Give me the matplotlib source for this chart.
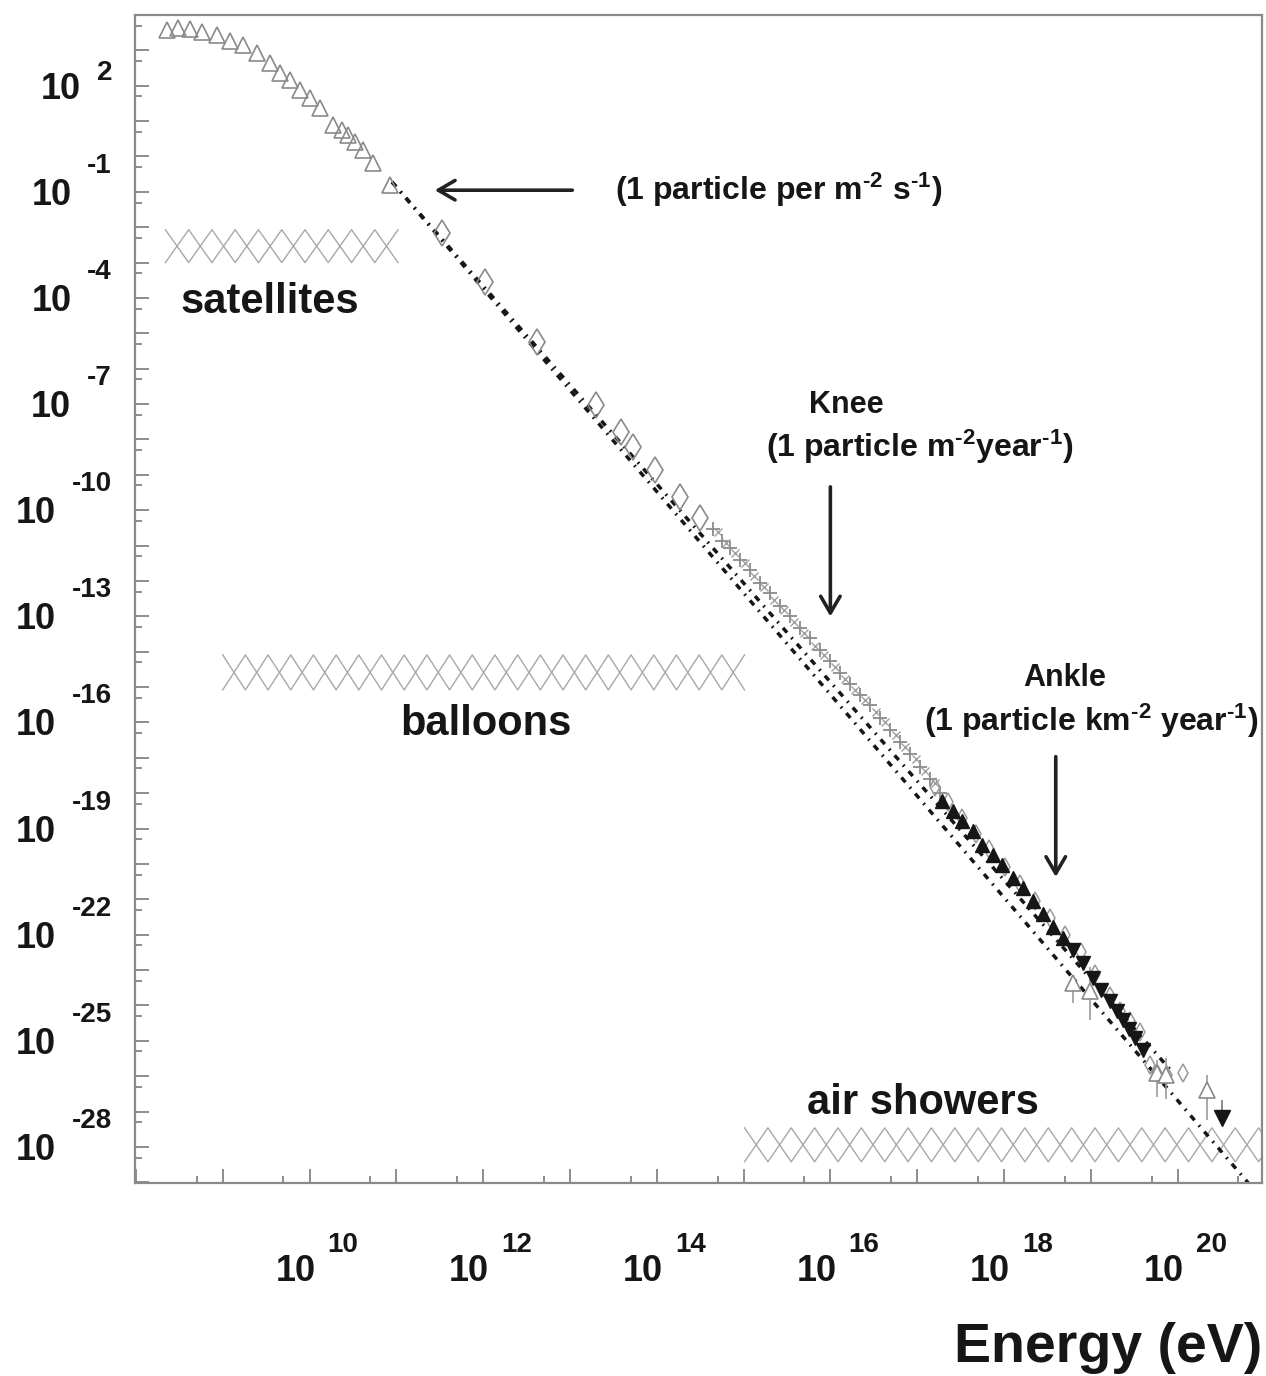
import numpy as np
import matplotlib
matplotlib.use("Agg")
import matplotlib.pyplot as plt
from matplotlib import ticker, transforms

plt.rcParams['font.family'] = 'Liberation Sans'
plt.rcParams['font.weight'] = 'bold'
plt.rcParams['mathtext.fontset'] = 'custom'
for k in ('rm', 'it', 'bf', 'sf'):
    plt.rcParams['mathtext.' + k] = 'Liberation Sans:bold'

# all-particle spectrum, log10(E/eV) and log10(flux)
tri_logE = [8.36, 8.49, 8.62, 8.76, 8.93, 9.08, 9.23, 9.40, 9.55, 9.66, 9.78,
            9.89, 10.01, 10.12, 10.27, 10.37, 10.44, 10.52, 10.62, 10.73, 10.93]
tri_logF = [3.58, 3.64, 3.61, 3.53, 3.44, 3.27, 3.16, 2.93, 2.65, 2.37, 2.17,
            1.89, 1.66, 1.38, 0.90, 0.76, 0.61, 0.42, 0.19, -0.18, -0.80]

dia_logE = [11.53, 12.02, 12.62, 13.30, 13.59, 13.72, 13.98, 14.27, 14.50]
dia_logF = [-2.16, -3.54, -5.24, -7.02, -7.78, -8.21, -8.86, -9.62, -10.21]

knee_logE = [14.65, 14.75, 14.84, 14.96, 15.07, 15.19, 15.30, 15.42, 15.53,
             15.65, 15.76, 15.88, 15.99, 16.11, 16.22, 16.34, 16.46, 16.57,
             16.69, 16.80, 16.92, 17.03, 17.15, 17.26]
knee_logF = [-10.52, -10.86, -11.07, -11.41, -11.70, -12.06, -12.34, -12.71,
             -13.00, -13.33, -13.62, -13.96, -14.25, -14.61, -14.90, -15.23,
             -15.52, -15.88, -16.20, -16.56, -16.88, -17.26, -17.61, -18.00]
knee2_logE = [14.70, 14.80, 14.90, 15.01, 15.12, 15.24, 15.35, 15.47, 15.58,
              15.70, 15.82, 15.93, 16.05, 16.17, 16.28, 16.40, 16.52, 16.63,
              16.75, 16.86, 16.98, 17.09, 17.20]
knee2_logF = [-10.62, -10.93, -11.22, -11.50, -11.85, -12.16, -12.55, -12.83,
              -13.17, -13.46, -13.84, -14.08, -14.42, -14.76, -15.07, -15.36,
              -15.70, -16.00, -16.35, -16.68, -17.02, -17.38, -17.72]

fe_logE = [17.29, 17.41, 17.52, 17.64, 17.75, 17.87, 17.98, 18.10, 18.22,
           18.33, 18.45, 18.56, 18.68]
fe_logF = [-18.22, -18.50, -18.80, -19.08, -19.46, -19.75, -20.03, -20.40,
           -20.68, -21.04, -21.42, -21.79, -22.08]

ag_logE = [18.79, 18.91, 19.02, 19.12, 19.22, 19.30, 19.37, 19.44, 19.51, 19.60]
ag_logF = [-22.42, -22.80, -23.22, -23.55, -23.88, -24.15, -24.40, -24.66,
           -24.93, -25.25]

uhe_logE = [17.20, 17.35, 17.51, 17.68, 17.83, 18.01, 18.18, 18.35, 18.53,
            18.70, 18.88, 19.05, 19.22, 19.34, 19.45, 19.56, 19.68, 19.76,
            19.88, 20.06]
uhe_logF = [-17.82, -18.24, -18.69, -19.16, -19.58, -20.09, -20.56, -21.04,
            -21.54, -22.02, -22.50, -23.10, -23.72, -24.15, -24.45, -24.75,
            -25.68, -25.91, -25.96, -25.91]

eb_logE = [18.79, 18.99, 19.76, 19.86, 20.34]
eb_logF = [-23.36, -23.60, -25.91, -25.96, -26.39]
eb_logF_lo = [-23.93, -24.41, -26.58, -26.65, -27.23]
eb_logF_hi = [-23.19, -22.91, -25.54, -25.48, -25.96]

top_logE = [20.51]
top_logF = [-27.18]
top_logF_hi = [-26.67]

# power-law guides
fit_a_logE = [10.95, 19.95]
fit_a_logF = [-0.72, -25.92]
fit_b_logE = [10.95, 20.85]
fit_b_logF = [-0.72, -29.13]

# energy ranges covered by each technique
band_names = ['satellites', 'balloons', 'air showers']
band_logE_lo = [8.34, 9.00, 15.01]
band_logE_hi = [11.02, 15.01, 21.20]
band_logF_lo = [-3.00, -15.08, -28.42]
band_logF_hi = [-2.07, -14.09, -27.46]

x_label_exps = [10, 12, 14, 16, 18, 20]
y_label_exps = [2, -1, -4, -7, -10, -13, -16, -19, -22, -25, -28]


def p10(v):
    return 10.0 ** np.asarray(v, dtype=float)


fig = plt.figure(figsize=(12.66, 13.76), dpi=100)
ax = fig.add_axes([135 / 1266, 1 - 1183 / 1376, 1127 / 1266, 1168 / 1376])
ax.set_xscale('log')
ax.set_yscale('log')
ax.set_xlim(10 ** 7.99, 10 ** 20.97)
ax.set_ylim(10 ** -29.02, 10 ** 4.0)

grey = '#8a8a8a'
ink = '#161616'

# cross-hatched bands, drawn as two zigzags in opposite phase
for e0, e1, f0, f1 in zip(band_logE_lo, band_logE_hi, band_logF_lo, band_logF_hi):
    n = max(1, int(round((e1 - e0) / 0.265)))
    xs = np.linspace(e0, e1, n + 1)
    even = np.arange(n + 1) % 2 == 0
    for ys in (np.where(even, f1, f0), np.where(even, f0, f1)):
        ax.plot(p10(xs), p10(ys), color='#a8a8a8', lw=1.0,
                solid_joinstyle='round', zorder=1)

for fe, ff in ((fit_a_logE, fit_a_logF), (fit_b_logE, fit_b_logF)):
    ax.plot(p10(fe), p10(ff), color=ink, lw=2.5,
            dashes=(1.8, 1.9, 0.5, 1.9), zorder=2)

ax.plot(p10(tri_logE), p10(tri_logF), ls='none', marker='^', ms=11,
        mfc='none', mec=grey, mew=1.2, zorder=3)
ax.plot(p10(dia_logE), p10(dia_logF), ls='none', marker='d', ms=13,
        mfc='none', mec=grey, mew=1.2, zorder=3)
ax.plot(p10(knee_logE), p10(knee_logF), ls='none', marker='+', ms=10,
        color=grey, mew=1.3, zorder=3)
ax.plot(p10(knee2_logE), p10(knee2_logF), ls='none', marker='x', ms=6,
        color='#a0a0a0', mew=1.0, zorder=3)
ax.plot(p10(uhe_logE), p10(uhe_logF), ls='none', marker='d', ms=9,
        mfc='none', mec='#999999', mew=1.1, zorder=3)
ax.plot(p10(fe_logE), p10(fe_logF), ls='none', marker='^', ms=10,
        color=ink, zorder=4)
ax.plot(p10(ag_logE), p10(ag_logF), ls='none', marker='v', ms=10,
        color=ink, zorder=4)

ebF = p10(eb_logF)
ax.errorbar(p10(eb_logE), ebF, yerr=[ebF - p10(eb_logF_lo), p10(eb_logF_hi) - ebF],
            fmt='^', ms=11, mfc='white', mec=grey, mew=1.2, ecolor='#9a9a9a',
            elinewidth=1.2, capsize=0, zorder=3)
topF = p10(top_logF)
ax.errorbar(p10(top_logE), topF, yerr=[np.zeros(1), p10(top_logF_hi) - topF],
            fmt='v', ms=12, color=ink, ecolor='#777777', elinewidth=1.2,
            capsize=0, zorder=4)

# axes frame and ticks
for s in ax.spines.values():
    s.set_color(grey)
    s.set_linewidth(1.6)
for axis in (ax.xaxis, ax.yaxis):
    axis.set_major_locator(ticker.LogLocator(base=10, subs=(1.0,), numticks=100))
    axis.set_minor_locator(ticker.LogLocator(base=10, subs=(5.0,), numticks=100))
    axis.set_major_formatter(ticker.NullFormatter())
    axis.set_minor_formatter(ticker.NullFormatter())
ax.tick_params(which='both', direction='in', color='#7a7a7a', width=1.2,
               top=False, right=False)
ax.tick_params(which='major', length=10)
ax.tick_params(which='minor', length=5)

# "10" with a detached exponent, as on the original axis labels
xtr = transforms.blended_transform_factory(ax.transData, ax.transAxes)
for n in x_label_exps:
    ax.text(10.0 ** n, 0, '10', ha='right', va='baseline', fontsize=26,
            color=ink, transform=transforms.offset_copy(xtr, fig=fig, x=6, y=-98, units='dots'))
    ax.text(10.0 ** n, 0, str(n), ha='left', va='baseline', fontsize=20,
            color=ink, transform=transforms.offset_copy(xtr, fig=fig, x=18, y=-69, units='dots'))

ytr = ax.get_yaxis_transform()
for n in y_label_exps:
    lift = 6 if n > 0 else 19
    e = ax.annotate(str(n), xy=(0, 10.0 ** n), xycoords=ytr, xytext=(-23, lift),
                    textcoords='offset pixels', ha='right', va='baseline',
                    fontsize=20, color=ink)
    ax.annotate('10', xy=(0, 10.0 ** n), xycoords=(e, ytr), xytext=(-16, -13),
                textcoords='offset pixels', ha='right', va='baseline',
                fontsize=26, color=ink)

fig.text(1262 / 1266, 1 - 1362 / 1376, 'Energy (eV)', ha='right', va='baseline',
         fontsize=40, color=ink)

# band labels
ax.text(0.1198, 0.7449, band_names[0], transform=ax.transAxes, ha='center',
        va='baseline', fontsize=30, color=ink)
ax.text(0.3115, 0.3836, band_names[1], transform=ax.transAxes, ha='center',
        va='baseline', fontsize=30, color=ink)
ax.text(0.6992, 0.0591, band_names[2], transform=ax.transAxes, ha='center',
        va='baseline', fontsize=30, color=ink)

# flux landmarks
arrow = dict(arrowstyle='->,head_length=0.6,head_width=0.35', lw=2.6,
             color='#222222', mutation_scale=20, shrinkA=0, shrinkB=0)
ax.annotate('', xy=(0.266, 0.850), xytext=(0.388, 0.850),
            xycoords='axes fraction', arrowprops=arrow)
ax.text(0.4259, 0.8416, r'(1 particle per m$^{\text{-2}}$ s$^{\text{-1}}$)',
        transform=ax.transAxes, ha='left', va='baseline', fontsize=23, color=ink)

ax.text(0.6309, 0.6592, 'Knee', transform=ax.transAxes, ha='center',
        va='baseline', fontsize=22, color=ink)
ax.text(0.6965, 0.6216, r'(1 particle m$^{\text{-2}}$year$^{\text{-1}}$)',
        transform=ax.transAxes, ha='center', va='baseline', fontsize=23, color=ink)
ax.annotate('', xy=(0.617, 0.485), xytext=(0.617, 0.596),
            xycoords='axes fraction', arrowprops=arrow)

ax.text(0.8252, 0.4255, 'Ankle', transform=ax.transAxes, ha='center',
        va='baseline', fontsize=22, color=ink)
ax.text(0.8483, 0.3870, r'(1 particle km$^{\text{-2}}$ year$^{\text{-1}}$)',
        transform=ax.transAxes, ha='center', va='baseline', fontsize=23, color=ink)
ax.annotate('', xy=(0.817, 0.262), xytext=(0.817, 0.365),
            xycoords='axes fraction', arrowprops=arrow)

fig.savefig('out.png', dpi=100, facecolor='white')
